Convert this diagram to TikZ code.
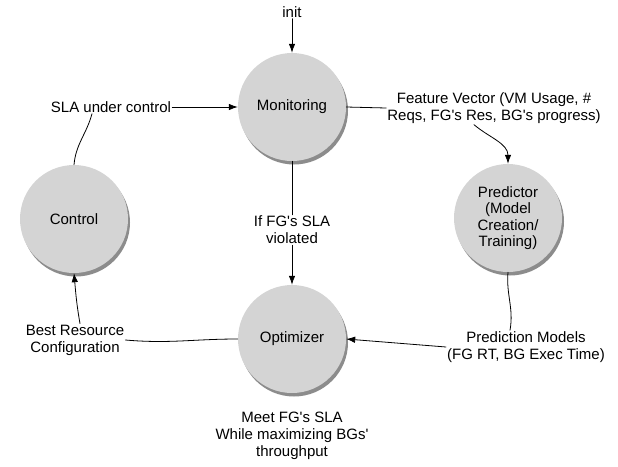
\documentclass[tikz,border=0pt]{standalone}
\usepackage{fontspec}
\newfontfamily\diagfont{Liberation Sans}
\usepackage{xcolor}
\usepackage{tikz}
\usetikzlibrary{arrows.meta}
\usetikzlibrary{positioning}
\usetikzlibrary{shadows}
\definecolor{stategray}{RGB}{212,212,212}

\begin{document}
\begin{tikzpicture}[line cap=round,line join=round,>={Latex[length=9pt,width=6.5pt]},x=1pt,y=-1pt,
  state/.style={circle,fill=stategray,minimum size=108pt,inner sep=0pt,align=center,
    font=\diagfont\fontsize{15}{16.5}\selectfont,
    drop shadow={shadow xshift=2pt,shadow yshift=-3.5pt,opacity=0.45,fill=black}},
  lbl/.style={align=center,inner sep=1pt,font=\diagfont\fontsize{15}{17}\selectfont},
  conn/.style={line width=0.8pt}]
\useasboundingbox (0,0) rectangle (618,466);
% states
\node [state] (mon) at (292,107) {Monitoring};
\node [state] (ctrl) at (74,219) {Control};
\node [state] (pred) at (508,218) {Predictor\\(Model\\Creation/\\Training)};
\node [state] (opt) at (292,339) {Optimizer};
% labels
\node [lbl] (initlbl) at (292,12) {init};
\node [lbl] (slalbl) at (111,107) {SLA under control};
\node [lbl] (featlbl) at (494,108) {Feature Vector (VM Usage, \#\\Reqs, FG's Res, BG's progress)};
\node [lbl] (violbl) at (292,230) {If FG's SLA\\violated};
\node [lbl] (predlbl) at (526,347) {Prediction Models\\(FG RT, BG Exec Time)};
\node [lbl] (bestlbl) at (75,340) {Best Resource\\Configuration};
\node [lbl] (meetlbl) at (292,436) {Meet FG's SLA\\While maximizing BGs'\\throughput};
% connectors
\draw [conn,->] (initlbl) -- (mon.north);
\draw [conn] (ctrl.north) to[out=85,in=255] ([xshift=-19pt]slalbl.south);
\draw [conn,->] (slalbl.east) -- (mon.west);
\draw [conn] (mon.east) -- (featlbl.west);
\draw [conn,->] ([xshift=-20pt]featlbl.south) to[out=-40,in=90] (pred.north);
\draw [conn] (mon.south) -- (violbl.north);
\draw [conn,->] (violbl.south) -- (opt.north);
\draw [conn] (pred.south) to[out=-95,in=80] ([xshift=-16pt]predlbl.north);
\draw [conn,->] (predlbl.west) -- (opt.east);
\draw [conn] (opt.west) to[out=180,in=-5] (bestlbl.east);
\draw [conn,->] ([xshift=5pt]bestlbl.north) to[out=100,in=-85] (ctrl.south);
\end{tikzpicture}
\end{document}
